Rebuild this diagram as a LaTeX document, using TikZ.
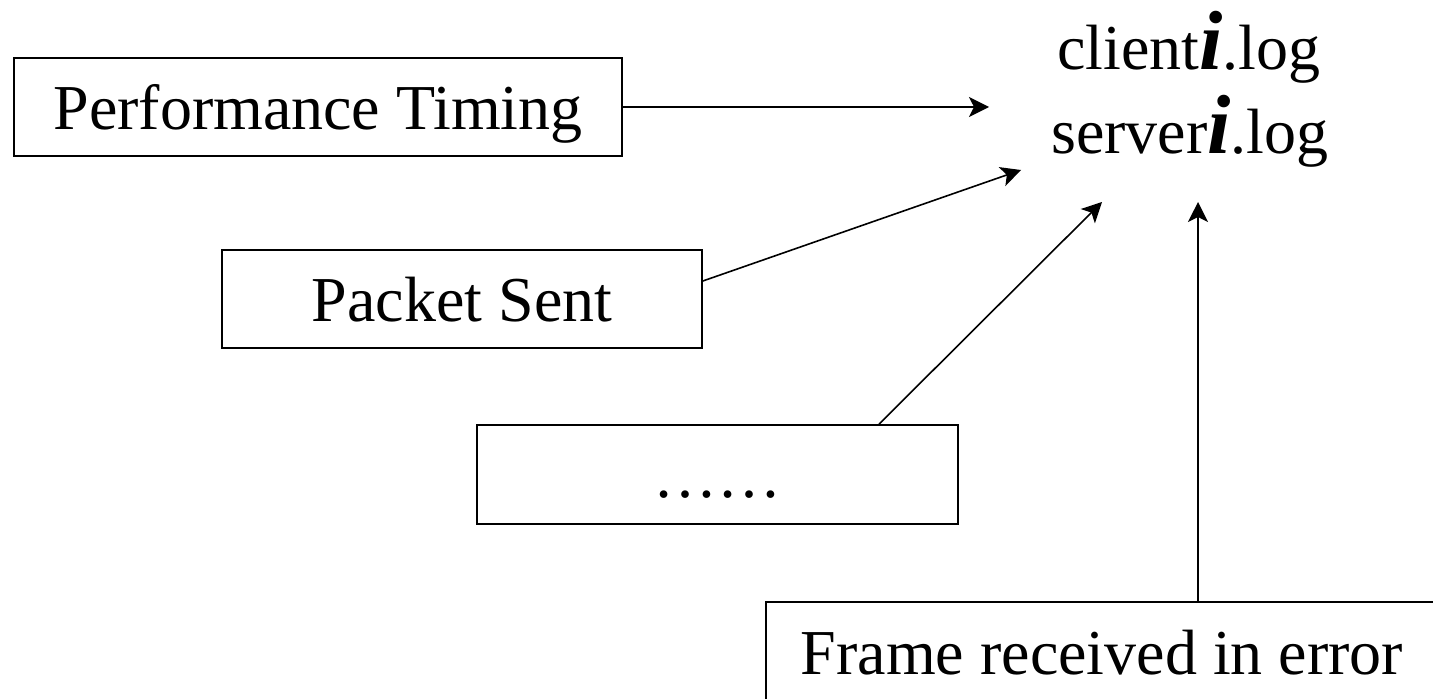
\documentclass[tikz,border=0pt]{standalone}
\usepackage{fontspec}
\setmainfont{Liberation Serif}
\usetikzlibrary{arrows.meta}

\tikzset{
  boxnode/.style={draw, line width=0.85pt, inner sep=0pt, text height=23pt, text depth=0pt,
    font=\fontsize{32pt}{42pt}\selectfont},
  logname/.style={anchor=base, inner sep=0pt, font=\fontsize{32pt}{42pt}\selectfont},
  arr/.style={line width=0.8pt, -{Stealth[length=10pt, width=10pt, inset=2.5pt]}}
}
\newcommand{\bigi}{{\fontsize{42pt}{42pt}\selectfont\bfseries\itshape i}}

\begin{document}
\begin{tikzpicture}[x=0.5pt, y=-0.5pt]
  \useasboundingbox (0,0) rectangle (1433,699);

  % log file names
  \node[logname] (client) at (1189,70) {client\bigi.log};
  \node[logname] (server) at (1190,154) {server\bigi.log};

  % event sources
  \node[boxnode, minimum width=304pt, minimum height=49pt] (pt) at (318,107) {Performance Timing};
  \node[boxnode, minimum width=240pt, minimum height=49pt] (ps) at (462,299) {Packet Sent};
  \node[boxnode, minimum width=240.5pt, minimum height=49.5pt] (dots) at (717.5,474.5) {……};
  \node[boxnode, minimum width=336pt, minimum height=49pt] (fr) at (1102,651) {Frame received in error};

  % arrow tips next to the log names
  \coordinate (a1) at (989,107);
  \coordinate (a2) at (1021,170);
  \coordinate (a3) at (1102,202);
  \coordinate (a4) at (1198,202);

  \draw[arr] (pt.east) -- (a1);
  \draw[arr] ([yshift=9pt]ps.east) -- (a2);
  \draw[arr] ([xshift=80.75pt]dots.north) -- (a3);
  \draw[arr] ([xshift=48pt]fr.north) -- (a4);
\end{tikzpicture}
\end{document}
